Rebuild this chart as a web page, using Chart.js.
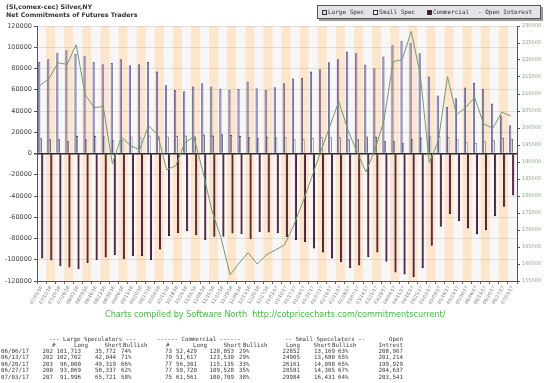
<!DOCTYPE html>
<html><head><meta charset="utf-8">
<script src="https://cdn.jsdelivr.net/npm/chart.js@4.4.1/dist/chart.umd.min.js"></script>
<style>
body{margin:0;background:#fff;width:550px;height:383px;overflow:hidden;position:relative;font-family:'DejaVu Sans',sans-serif;}
#wrap{position:absolute;left:0;top:0;width:550px;height:320px;}
.t{position:absolute;white-space:pre;line-height:8px;}
.r{transform:translateX(-100%);}
#title{position:absolute;left:6px;top:3px;font:bold 6.3px 'DejaVu Sans';color:#333;line-height:7.5px;white-space:pre;}
#legend{position:absolute;left:317px;top:5px;width:222px;height:12px;background:#e4e4e8;border:1px solid #555;box-shadow:2px 2px 0 #9a9a9a;font:6px 'DejaVu Sans Mono';color:#333;}
#legend span{position:absolute;top:2px;line-height:8px;white-space:pre;}
#legend i{position:absolute;top:4px;width:3px;height:3px;border:1px solid #333;}
#credit{position:absolute;left:105px;top:309px;font:8.1px 'DejaVu Sans';color:#3fbf3f;white-space:pre;}
#table{position:absolute;left:0;top:0;font:5.8px 'DejaVu Sans Mono';color:#3a3a3a;}
</style></head>
<body>
<div id="wrap"><canvas id="c" width="550" height="320"></canvas></div>
<div id="title">(SI,comex-cec) Silver,NY
Net Commitments of Futures Traders</div>
<div id="legend">
 <i style="left:4px;background:#d8d6ee"></i><span style="left:10px">Large Spec</span>
 <i style="left:55px;background:#fff"></i><span style="left:61px">Small Spec</span>
 <i style="left:109px;background:#4a1436"></i><span style="left:115px">Commercial</span>
 <span style="left:160px">- Open Interest</span>
</div>
<div id="credit">Charts compiled by Software North  http://cotpricecharts.com/commitmentscurrent/</div>
<div id="table"></div>
<script>
const dates = ["07/05/16","07/12/16","07/19/16","07/26/16","08/02/16","08/09/16","08/16/16","08/23/16","08/30/16","09/06/16","09/13/16","09/20/16","09/27/16","10/04/16","10/11/16","10/18/16","10/25/16","11/01/16","11/08/16","11/15/16","11/22/16","11/29/16","12/06/16","12/13/16","12/20/16","12/27/16","01/03/17","01/10/17","01/17/17","01/24/17","01/31/17","02/07/17","02/14/17","02/21/17","02/28/17","03/07/17","03/14/17","03/21/17","03/28/17","04/04/17","04/11/17","04/18/17","04/25/17","05/02/17","05/09/17","05/16/17","05/23/17","05/30/17","06/06/17","06/13/17","06/20/17","06/27/17","07/03/17"];
const largeSpec = [85800,88300,94800,96800,93500,91700,85800,83800,84800,88300,82700,83600,85800,76800,63900,59500,58300,62700,65800,62700,60800,59500,60300,67400,61100,59500,62000,65800,70200,71100,76800,79000,85500,88400,95600,94000,83400,79900,90900,101500,105900,104000,94000,72100,54200,43500,51700,61800,65941,60658,46681,35532,26275];
const smallSpec = [14100,13200,13200,11300,16300,12800,16300,15700,12200,12200,15700,14700,16600,15700,15700,16300,16600,15700,17500,16600,17900,17200,16300,15000,14100,15400,14700,15000,13200,13200,14100,15000,15000,15000,13200,13200,15700,15400,11300,11300,9400,13200,14700,15700,16300,15000,13200,10300,9683,11225,12063,14276,13553];
const commercial = [-98400,-100300,-105900,-106900,-108400,-102800,-100000,-97500,-95300,-99000,-96500,-96500,-100000,-90000,-77400,-74600,-72700,-76400,-81100,-78000,-78000,-74900,-75500,-80500,-73500,-74000,-74700,-78300,-81100,-83000,-89000,-92900,-98400,-101800,-107400,-105000,-97100,-92800,-101500,-111600,-113500,-115900,-107400,-86500,-68600,-56700,-63300,-70200,-75624,-71913,-58834,-49808,-39148];
const openInterest = [212500,214500,219200,218700,224500,209800,206000,206300,189500,197400,194800,193600,200700,198000,187700,188900,195700,197400,187100,175600,167700,156800,160300,163300,160000,162700,164100,165600,171200,178000,185400,193000,200400,207800,199500,193000,187100,193600,202400,219500,220100,228400,215700,189800,196300,215100,203900,206000,208967,201214,199929,204637,203541];

// summary table (text as printed)
const tableDates = ["06/06/17","06/13/17","06/20/17","06/27/17","07/03/17"];
const lsCount = ["202","202","203","200","207"];
const lsLong = ["101,713","102,702","96,000","93,869","91,996"];
const lsShort = ["35,772","42,044","49,319","58,337","65,721"];
const lsBull = ["74%","71%","66%","62%","58%"];
const cmCount = ["73","70","77","77","75"];
const cmLong = ["52,429","51,617","56,301","59,720","61,561"];
const cmShort = ["128,053","123,530","115,135","109,528","100,709"];
const cmBull = ["29%","29%","33%","35%","38%"];
const ssLong = ["22852","24905","26161","28581","29984"];
const ssShort = ["13,169","13,680","14,098","14,305","16,431"];
const ssBull = ["63%","65%","65%","67%","64%"];
const oiText = ["208,967","201,214","199,929","204,637","203,541"];

const tbl = document.getElementById('table');
function put(txt, x, y, right){
  const d=document.createElement('div'); d.className='t'+(right?' r':''); d.textContent=txt;
  d.style.left=x+'px'; d.style.top=(y-4)+'px'; tbl.appendChild(d);
}
put('--- Large Speculators ---',49,339); put('------ Commercial ------',157,339);
put('-- Small Speculators --',285,339); put('Open',403,339,true);
put('#',52,345); put('Long',88,345,true); put('Short',122,345,true); put('Bullish',123,345);
put('#',166,345); put('Long',207,345,true); put('Short',241,345,true); put('Bullish',243,345);
put('Long',300,345,true); put('Short',331,345,true); put('Bullish',332,345); put('Intrest',403,345,true);
tableDates.forEach((d,k)=>{
  const y=350.5+k*6.6;
  put(d,1,y); put(lsCount[k],53,y,true); put(lsLong[k],81,y,true); put(lsShort[k],116,y,true); put(lsBull[k],121,y);
  put(cmCount[k],165,y); put(cmLong[k],197,y,true); put(cmShort[k],234,y,true); put(cmBull[k],239,y);
  put(ssLong[k],300,y,true); put(ssShort[k],335,y,true); put(ssBull[k],338,y); put(oiText[k],403,y,true);
});

const bands = {id:'bands', beforeDraw(chart){
  const {ctx, chartArea:a, scales:{x}} = chart;
  ctx.save();
  ctx.fillStyle='#f7f7f7'; ctx.fillRect(a.left,a.top,a.right-a.left,a.bottom-a.top);
  const w=(a.right-a.left)/dates.length;
  ctx.fillStyle='#fde6cb';
  dates.forEach((d,i)=>{ if(i%2===1){ const c=x.getPixelForValue(i); ctx.fillRect(c-w/2,a.top,w,a.bottom-a.top);} });
  ctx.restore();
}};

const shift = 0.32;
new Chart(document.getElementById('c'), {
  type:'bar',
  data:{labels:dates, datasets:[
    {type:'line', label:'Open Interest', data:openInterest.map((v,i)=>({x:i,y:v})), xAxisID:'x2', yAxisID:'y2',
     borderColor:'#6f9c6f', borderWidth:1, pointRadius:0, tension:0, order:0},
    {label:'Large Spec', data:largeSpec, backgroundColor:'#9f9bd4', borderColor:'#44427a', borderWidth:0.6,
     categoryPercentage:1, barPercentage:1, order:1, yAxisID:'y'},
    {label:'Small Spec', data:smallSpec, backgroundColor:'#ffffff', borderColor:'#1a1a1a', borderWidth:0.6,
     categoryPercentage:1, barPercentage:1, order:1, yAxisID:'y'},
    {label:'Commercial', data:commercial, backgroundColor:'#5e1d48', borderColor:'#2a0a1e', borderWidth:0.6,
     categoryPercentage:1, barPercentage:1, order:1, yAxisID:'y'}
  ]},
  options:{
    responsive:false, animation:false, devicePixelRatio:1,
    layout:{padding:{top:26,left:0,right:0,bottom:0}},
    plugins:{legend:{display:false}, tooltip:{enabled:false}},
    scales:{
      x:{type:'category', offset:true,
         grid:{offset:true, drawOnChartArea:false, tickLength:3, color:'#666'},
         border:{color:'#555'},
         ticks:{font:{size:4.5,family:'DejaVu Sans'}, color:'#777', maxRotation:60, minRotation:60, autoSkip:false, padding:1},
         afterFit:s=>{s.height=39;}},
      x2:{type:'linear', display:false, offset:false, grid:{offset:false}, bounds:'data', min:-shift, max:dates.length-shift},
      y:{position:'left', min:-120000, max:120000,
         ticks:{stepSize:20000, font:{size:6.5,family:'DejaVu Sans'}, color:'#444', padding:2, callback:v=>String(v)},
         grid:{tickLength:3, tickColor:'#555',
               color:c=>c.tick&&c.tick.value===0?'#2a2a2a':'rgba(0,0,0,0.09)',
               lineWidth:c=>c.tick&&c.tick.value===0?1.5:1},
         border:{color:'#555'},
         afterFit:s=>{s.width=37;}},
      y2:{position:'right', min:155000, max:230000,
         ticks:{stepSize:5000, font:{size:5,family:'DejaVu Sans'}, color:'#8aa88a', padding:2, callback:v=>String(v)},
         grid:{drawOnChartArea:false, tickLength:3, color:'#555'},
         border:{color:'#555'},
         afterFit:s=>{s.width=33;}}
    }
  },
  plugins:[bands]
});
</script>
</body></html>
